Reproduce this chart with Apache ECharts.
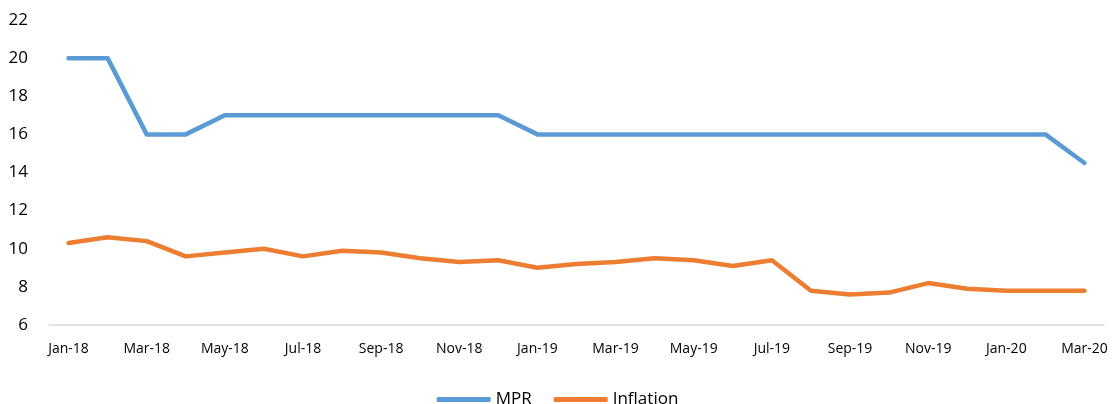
<!DOCTYPE html>
<html>
<head>
<meta charset="utf-8">
<script src="https://cdn.jsdelivr.net/npm/echarts@6/dist/echarts.min.js"></script>
<style>
  html, body { margin: 0; padding: 0; background: #fff; }
  #chart { width: 1115px; height: 404px; }
</style>
</head>
<body>
<div id="chart"></div>
<script>
// data
const months = ['Jan-18', 'Feb-18', 'Mar-18', 'Apr-18', 'May-18', 'Jun-18', 'Jul-18', 'Aug-18', 'Sep-18',
    'Oct-18', 'Nov-18', 'Dec-18', 'Jan-19', 'Feb-19', 'Mar-19', 'Apr-19', 'May-19', 'Jun-19', 'Jul-19',
    'Aug-19', 'Sep-19', 'Oct-19', 'Nov-19', 'Dec-19', 'Jan-20', 'Feb-20', 'Mar-20'];
const mpr = [20, 20, 16, 16, 17, 17, 17, 17, 17, 17, 17, 17, 16, 16, 16, 16, 16, 16, 16,
    16, 16, 16, 16, 16, 16, 16, 14.5];
const inflation = [10.3, 10.6, 10.4, 9.6, 9.8, 10.0, 9.6, 9.9, 9.8, 9.5, 9.3, 9.4, 9.0, 9.2, 9.3, 9.5, 9.4,
    9.1, 9.4, 7.8, 7.6, 7.7, 8.2, 7.9, 7.8, 7.8, 7.8];

const font = 'Open Sans, Liberation Sans, sans-serif';

const chart = echarts.init(document.getElementById('chart'));

chart.setOption({
    animation: false,
    grid: { left: 49, right: 11, top: 20, bottom: 79 },
    legend: {
        top: 386,
        left: 'center',
        itemWidth: 54,
        itemHeight: 5,
        itemGap: 22,
        icon: 'roundRect',
        textStyle: { fontFamily: font, fontSize: 17, color: '#000' },
        data: ['MPR', 'Inflation']
    },
    xAxis: {
        type: 'category',
        data: months,
        boundaryGap: true,
        axisLine: { lineStyle: { color: '#d9d9d9', width: 1.5 } },
        axisTick: { interval: 1, length: 5, lineStyle: { color: '#d9d9d9', width: 1.5 } },
        axisLabel: { interval: 1, margin: 17, fontFamily: font, fontSize: 14, color: '#000' },
        splitLine: { show: false }
    },
    yAxis: {
        type: 'value',
        min: 6,
        max: 22,
        interval: 2,
        axisLine: { show: false },
        axisTick: { show: false },
        splitLine: { show: false },
        axisLabel: { margin: 21, fontFamily: font, fontSize: 17, color: '#000' }
    },
    series: [
        {
            name: 'MPR',
            type: 'line',
            data: mpr,
            showSymbol: false,
            symbol: 'none',
            itemStyle: { color: '#5b9bd5' },
            lineStyle: { color: '#5b9bd5', width: 4.5, cap: 'round', join: 'round' }
        },
        {
            name: 'Inflation',
            type: 'line',
            data: inflation,
            showSymbol: false,
            symbol: 'none',
            itemStyle: { color: '#ed7d31' },
            lineStyle: { color: '#ed7d31', width: 4.5, cap: 'round', join: 'round' }
        }
    ]
});
</script>
</body>
</html>
